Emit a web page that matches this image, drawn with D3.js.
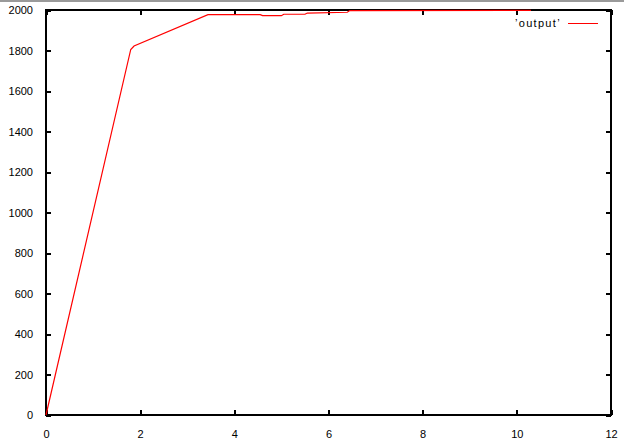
<!DOCTYPE html>
<html>
<head>
<meta charset="utf-8">
<script src="https://cdn.jsdelivr.net/npm/d3@7"></script>
<style>
  body { margin: 0; background: #fff; }
  text { font-family: "Liberation Sans", Arial, sans-serif; font-size: 11px; fill: #000; }
</style>
</head>
<body>
<div id="chart_area"></div>
<script>
// data
const xValues = [0, 1.8, 1.87, 3.44, 4.55, 4.6, 5.0, 5.05, 5.5, 5.55, 6.4, 6.45, 10.3];
const yValues = [0, 1805, 1822, 1977, 1977, 1972, 1972, 1979, 1979, 1985, 1989, 1997, 1998];
const xTicks = [0, 2, 4, 6, 8, 10, 12];
const yTicks = [0, 200, 400, 600, 800, 1000, 1200, 1400, 1600, 1800, 2000];
const seriesName = "\u2019output\u2019";

var canvas_width = 624,
  canvas_height = 444;

var margin = { top: 10, right: 13, bottom: 29, left: 46 },
  plot_width = canvas_width - margin.left - margin.right,
  plot_height = canvas_height - margin.top - margin.bottom;

var svg = d3.select("#chart_area")
  .append("svg")
  .attr("width", canvas_width)
  .attr("height", canvas_height);

// grey strip at the very top of the window
svg.append("rect")
  .attr("x", 0).attr("y", 0)
  .attr("width", canvas_width).attr("height", 2)
  .attr("fill", "#9a9a9a");

var x = d3.scaleLinear().domain([0, 12]).range([margin.left, margin.left + plot_width]);
var y = d3.scaleLinear().domain([0, 2000]).range([margin.top + plot_height, margin.top]);

function styleAxis(g) {
  g.select(".domain").remove();
  g.selectAll("line").attr("stroke", "#000").attr("stroke-width", 2).attr("shape-rendering", "crispEdges");
  g.selectAll("text").attr("font-family", null).attr("font-size", null).attr("fill", "#000");
}

// bottom axis with labels, ticks pointing in
svg.append("g")
  .attr("transform", `translate(0,${margin.top + plot_height})`)
  .call(d3.axisBottom(x).tickValues(xTicks).tickSize(-5).tickPadding(15).tickFormat(d3.format("d")))
  .call(styleAxis);

svg.append("g")
  .attr("transform", `translate(${margin.left},0)`)
  .call(d3.axisLeft(y).tickValues(yTicks).tickSize(-5).tickPadding(13).tickFormat(d3.format("d")))
  .call(styleAxis);

// mirrored ticks
svg.append("g")
  .attr("transform", `translate(0,${margin.top})`)
  .call(d3.axisTop(x).tickValues(xTicks).tickSize(-5).tickFormat(""))
  .call(styleAxis);

svg.append("g")
  .attr("transform", `translate(${margin.left + plot_width},0)`)
  .call(d3.axisRight(y).tickValues(yTicks).tickSize(-5).tickFormat(""))
  .call(styleAxis);

// frame
svg.append("rect")
  .attr("x", margin.left).attr("y", margin.top)
  .attr("width", plot_width).attr("height", plot_height)
  .attr("fill", "none")
  .attr("stroke", "#000")
  .attr("stroke-width", 2)
  .attr("shape-rendering", "crispEdges");

// the series
var line = d3.line()
  .x(i => x(xValues[i]))
  .y(i => y(yValues[i]));

svg.append("path")
  .datum(d3.range(xValues.length))
  .attr("d", line)
  .attr("fill", "none")
  .attr("stroke", "#ff0000")
  .attr("stroke-width", 1.2);

// legend
var legend = svg.append("g");
legend.append("text")
  .attr("x", 515)
  .attr("y", 27)
  .attr("letter-spacing", "1.3px")
  .text(seriesName);
legend.append("line")
  .attr("x1", 568).attr("x2", 598)
  .attr("y1", 23.5).attr("y2", 23.5)
  .attr("stroke", "#ff0000")
  .attr("stroke-width", 1);
</script>
</body>
</html>
